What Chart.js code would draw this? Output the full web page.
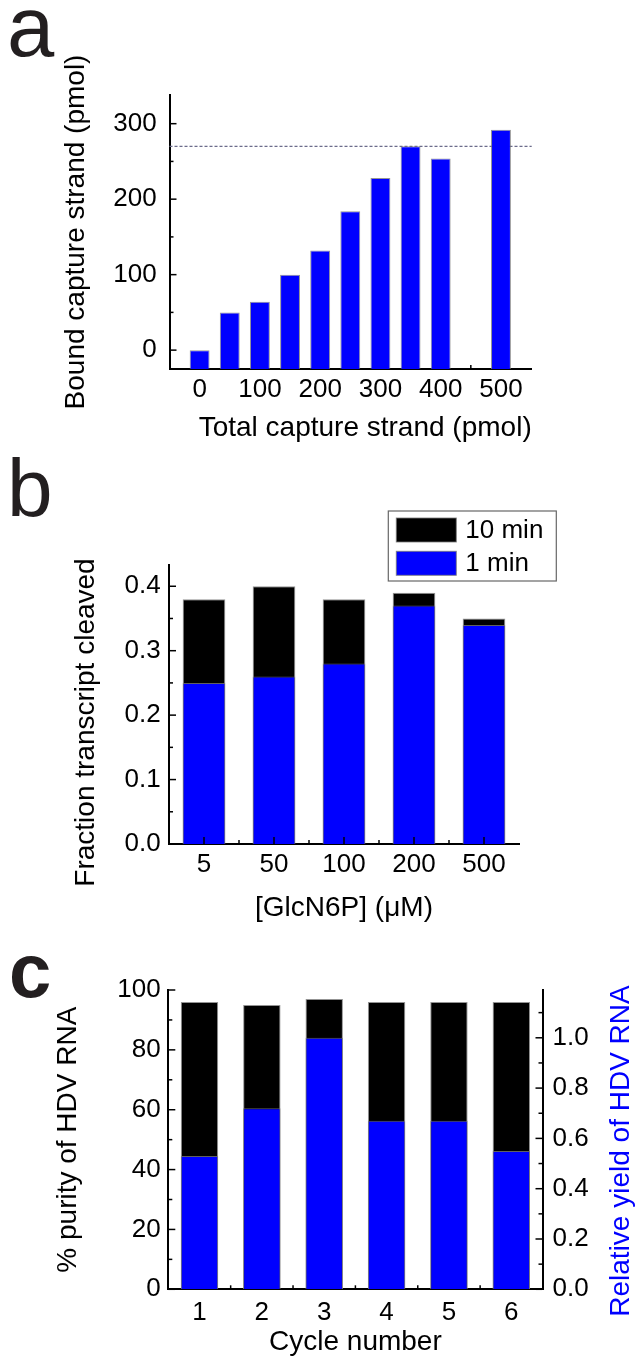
<!DOCTYPE html>
<html>
<head>
<meta charset="utf-8">
<script src="https://cdn.jsdelivr.net/npm/chart.js@4.4.1/dist/chart.umd.min.js"></script>
<style>
  body { margin: 0; background: #fff; width: 638px; height: 1359px; position: relative; overflow: hidden; }
  canvas { position: absolute; left: 0; }
</style>
</head>
<body>
<canvas id="chartA" width="638" height="445" style="top:0px"></canvas>
<canvas id="chartB" width="638" height="480" style="top:445px"></canvas>
<canvas id="chartC" width="638" height="434" style="top:925px"></canvas>
<script>
// Panel a - capture strand binding
const totalStrand = [0, 50, 100, 150, 200, 250, 300, 350, 400, 500];
const boundStrand = [0, 50, 64, 100, 132, 184, 228, 270, 254, 292];
const plateauLevel = 270;
const xTicksA = [0, 100, 200, 300, 400, 500];
const yTicksA = [0, 100, 200, 300];

// Panel b - cleavage vs GlcN6P
const glcn6p = ['5', '50', '100', '200', '500'];
const cleaved1min = [0.25, 0.26, 0.28, 0.37, 0.34];
const cleaved10min = [0.38, 0.40, 0.38, 0.39, 0.35];
const yTicksB = [0, 0.1, 0.2, 0.3, 0.4];

// Panel c - purity and yield per cycle
const cycles = ['1', '2', '3', '4', '5', '6'];
const purity = [96, 95, 97, 96, 96, 96];
const relYield = [0.53, 0.72, 1.0, 0.67, 0.67, 0.55];
const yTicksC = [0, 20, 40, 60, 80, 100];
const y1TicksC = [0, 0.2, 0.4, 0.6, 0.8, 1.0];

const BLUE = '#0000ff';
const EDGE = 'rgba(120,120,120,0.8)';
const FONT = "'Liberation Sans', Arial, sans-serif";

Chart.defaults.font.family = FONT;
Chart.defaults.color = '#000';

const setTicks = list => scale => { scale.ticks = list.map(v => ({ value: v })); };

// inward tick marks (major + minor), drawn under or over the bars
function drawMarks(chart, marks) {
    const ctx = chart.ctx;
    ctx.save();
    ctx.strokeStyle = '#000';
    ctx.lineWidth = 1.5;
    marks.forEach(m => {
        const s = chart.scales[m.scale];
        m.values.forEach(v => {
            const p = s.getPixelForValue(v);
            ctx.beginPath();
            if (s.isHorizontal()) {
                ctx.moveTo(p, s.top); ctx.lineTo(p, s.top - m.len);
            } else if (s.position === 'left') {
                ctx.moveTo(s.right, p); ctx.lineTo(s.right + m.len, p);
            } else {
                ctx.moveTo(s.left, p); ctx.lineTo(s.left - m.len, p);
            }
            ctx.stroke();
        });
    });
    ctx.restore();
}

const tickMarks = {
    id: 'tickMarks',
    beforeDatasetsDraw(chart, args, opts) { if (!opts.onTop) drawMarks(chart, opts.marks); },
    afterDatasetsDraw(chart, args, opts) { if (opts.onTop) drawMarks(chart, opts.marks); }
};

const refLine = {
    id: 'refLine',
    beforeDatasetsDraw(chart, args, opts) {
        if (opts.value === undefined) return;
        const {ctx, chartArea} = chart;
        const y = chart.scales.y.getPixelForValue(opts.value);
        ctx.save();
        ctx.strokeStyle = '#6b6b8a';
        ctx.lineWidth = 1.2;
        ctx.setLineDash([3, 2]);
        ctx.beginPath();
        ctx.moveTo(chartArea.left, y);
        ctx.lineTo(chartArea.right, y);
        ctx.stroke();
        ctx.restore();
    }
};

// panel letter and vertical titles that read bottom-to-top
const panelText = {
    id: 'panelText',
    afterDraw(chart, args, opts) {
        const ctx = chart.ctx;
        ctx.save();
        ctx.fillStyle = '#231f20';
        ctx.font = opts.letterFont;
        ctx.textBaseline = 'alphabetic';
        ctx.fillText(opts.letter, opts.lx, opts.ly);
        (opts.titles || []).forEach(t => {
            ctx.save();
            ctx.translate(t.x, t.y);
            ctx.rotate(-Math.PI / 2);
            ctx.font = '28px ' + FONT;
            ctx.fillStyle = t.color || '#000';
            ctx.textAlign = 'center';
            ctx.textBaseline = 'middle';
            ctx.fillText(t.text, 0, 0);
            ctx.restore();
        });
        ctx.restore();
    }
};

const boxLegend = {
    id: 'boxLegend',
    afterDraw(chart, args, opts) {
        if (!opts.box) return;
        const ctx = chart.ctx;
        const b = opts.box;
        ctx.save();
        ctx.strokeStyle = '#666';
        ctx.lineWidth = 1.2;
        ctx.strokeRect(b.x, b.y, b.w, b.h);
        ctx.font = '26px ' + FONT;
        ctx.textBaseline = 'middle';
        const items = chart.data.datasets.slice().reverse();
        items.forEach((ds, i) => {
            const y = b.y + 7 + i * 33.3;
            ctx.fillStyle = ds.backgroundColor;
            ctx.fillRect(b.x + 8, y, 60, 24);
            ctx.strokeStyle = EDGE;
            ctx.lineWidth = 1;
            ctx.strokeRect(b.x + 8, y, 60, 24);
            ctx.fillStyle = '#000';
            ctx.fillText(ds.label, b.x + 77, y + 13);
        });
        ctx.restore();
    }
};

const axisBorder = { color: '#000', width: 2 };
const noGrid = { display: false, drawTicks: false };

// ---------- panel a ----------
new Chart(document.getElementById('chartA'), {
    type: 'bar',
    data: {
        datasets: [{
            label: 'Bound capture strand',
            data: totalStrand.map((x, i) => ({ x: x, y: boundStrand[i] })),
            backgroundColor: BLUE,
            borderColor: EDGE,
            borderWidth: 1,
            base: -25,
            barPercentage: 0.66,
            categoryPercentage: 1
        }]
    },
    options: {
        responsive: false,
        animation: false,
        layout: { padding: { left: 0, top: 95, right: 106.3, bottom: 0 } },
        plugins: {
            legend: { display: false },
            tooltip: { enabled: false },
            refLine: { value: plateauLevel },
            panelText: { letter: 'a', lx: 7, ly: 56, letterFont: '85px ' + FONT },
            tickMarks: {
                onTop: false,
                marks: [
                    { scale: 'x', values: xTicksA, len: 7 },
                    { scale: 'x', values: [50, 150, 250, 350, 450], len: 4 },
                    { scale: 'y', values: yTicksA, len: 7 },
                    { scale: 'y', values: [50, 150, 250], len: 4 }
                ]
            }
        },
        scales: {
            x: {
                type: 'linear',
                offset: false,
                min: -50,
                max: 551,
                grid: noGrid,
                border: axisBorder,
                afterBuildTicks: setTicks(xTicksA),
                afterFit: s => { s.height = 76; },
                ticks: { padding: 5, font: { size: 26 } },
                title: { display: true, text: 'Total capture strand (pmol)', align: 'end', font: { size: 28 }, padding: { top: 3.6, bottom: 0 } }
            },
            y: {
                min: -25,
                max: 338,
                grid: noGrid,
                border: axisBorder,
                afterBuildTicks: setTicks(yTicksA),
                afterFit: s => { s.width = 169.5; },
                ticks: { padding: 12.8, font: { size: 26 } },
                title: { display: true, text: 'Bound capture strand (pmol)', font: { size: 28 }, padding: { top: 59, bottom: 0 } }
            }
        }
    },
    plugins: [tickMarks, refLine, panelText]
});

// ---------- panel b ----------
new Chart(document.getElementById('chartB'), {
    type: 'bar',
    data: {
        labels: glcn6p,
        datasets: [
            { label: '1 min', data: cleaved1min, backgroundColor: BLUE, borderColor: EDGE, borderWidth: 1, order: 0 },
            { label: '10 min', data: cleaved10min, backgroundColor: '#000', borderColor: EDGE, borderWidth: 1, order: 1 }
        ]
    },
    options: {
        responsive: false,
        animation: false,
        grouped: false,
        barPercentage: 0.61,
        categoryPercentage: 1,
        layout: { padding: { left: 0, top: 120, right: 119, bottom: 0 } },
        plugins: {
            legend: { display: false },
            tooltip: { enabled: false },
            panelText: {
                letter: 'b', lx: 7, ly: 71, letterFont: '82px ' + FONT,
                titles: [{ text: 'Fraction transcript cleaved', x: 86, y: 277.5 }]
            },
            boxLegend: { box: { x: 388.3, y: 66, w: 168, h: 70 } },
            tickMarks: {
                onTop: true,
                marks: [
                    { scale: 'x', values: [0, 1, 2, 3, 4], len: 7 },
                    { scale: 'x', values: [0.5, 1.5, 2.5, 3.5], len: 4 },
                    { scale: 'y', values: yTicksB, len: 7 },
                    { scale: 'y', values: [0.05, 0.15, 0.25, 0.35], len: 4 }
                ]
            }
        },
        scales: {
            x: {
                grid: noGrid,
                border: axisBorder,
                afterFit: s => { s.height = 81; },
                ticks: { padding: 5, font: { size: 26 } },
                title: { display: true, text: '[GlcN6P] (μM)', font: { size: 28 }, padding: { top: 1.9, bottom: 0 } }
            },
            y: {
                min: 0,
                max: 0.433,
                grid: noGrid,
                border: axisBorder,
                afterBuildTicks: setTicks(yTicksB),
                afterFit: s => { s.width = 169; },
                ticks: { padding: 8.3, font: { size: 26 }, callback: v => v.toFixed(1) }
            }
        }
    },
    plugins: [tickMarks, panelText, boxLegend]
});

// ---------- panel c ----------
new Chart(document.getElementById('chartC'), {
    type: 'bar',
    data: {
        labels: cycles,
        datasets: [
            { label: 'Relative yield of HDV RNA', data: relYield, yAxisID: 'y1', backgroundColor: BLUE, borderColor: EDGE, borderWidth: 1, order: 0 },
            { label: '% purity of HDV RNA', data: purity, yAxisID: 'y', backgroundColor: '#000', borderColor: EDGE, borderWidth: 1, order: 1 }
        ]
    },
    options: {
        responsive: false,
        animation: false,
        grouped: false,
        barPercentage: 0.6,
        categoryPercentage: 1,
        layout: { padding: { left: 0, top: 65, right: 0, bottom: 0 } },
        plugins: {
            legend: { display: false },
            tooltip: { enabled: false },
            panelText: {
                letter: 'c', lx: 9, ly: 72, letterFont: 'bold 76px ' + FONT,
                titles: [{ text: 'Relative yield of HDV RNA', x: 621, y: 226, color: BLUE }]
            },
            tickMarks: {
                onTop: false,
                marks: [
                    { scale: 'x', values: [0, 1, 2, 3, 4, 5], len: 7 },
                    { scale: 'x', values: [0.5, 1.5, 2.5, 3.5, 4.5], len: 4 },
                    { scale: 'y', values: yTicksC, len: 7 },
                    { scale: 'y', values: [10, 30, 50, 70, 90], len: 4 },
                    { scale: 'y1', values: y1TicksC, len: 7 },
                    { scale: 'y1', values: [0.1, 0.3, 0.5, 0.7, 0.9, 1.1], len: 4 }
                ]
            }
        },
        scales: {
            x: {
                grid: noGrid,
                border: axisBorder,
                afterFit: s => { s.height = 69.7; },
                ticks: { padding: 8, font: { size: 26 } },
                title: { display: true, text: 'Cycle number', font: { size: 28 }, padding: { top: 0, bottom: 0 } }
            },
            y: {
                position: 'left',
                min: 0,
                max: 100,
                grid: noGrid,
                border: axisBorder,
                afterBuildTicks: setTicks(yTicksC),
                afterFit: s => { s.width = 168.3; },
                ticks: { padding: 7.6, font: { size: 26 } },
                title: { display: true, text: '% purity of HDV RNA', font: { size: 28 }, padding: { top: 51, bottom: 0 } }
            },
            y1: {
                position: 'right',
                min: 0,
                max: 1.19,
                grid: noGrid,
                border: axisBorder,
                afterBuildTicks: setTicks(y1TicksC),
                afterFit: s => { s.width = 95.5; },
                ticks: { padding: 10, font: { size: 26 }, callback: v => v.toFixed(1) }
            }
        }
    },
    plugins: [tickMarks, panelText]
});
</script>
</body>
</html>
